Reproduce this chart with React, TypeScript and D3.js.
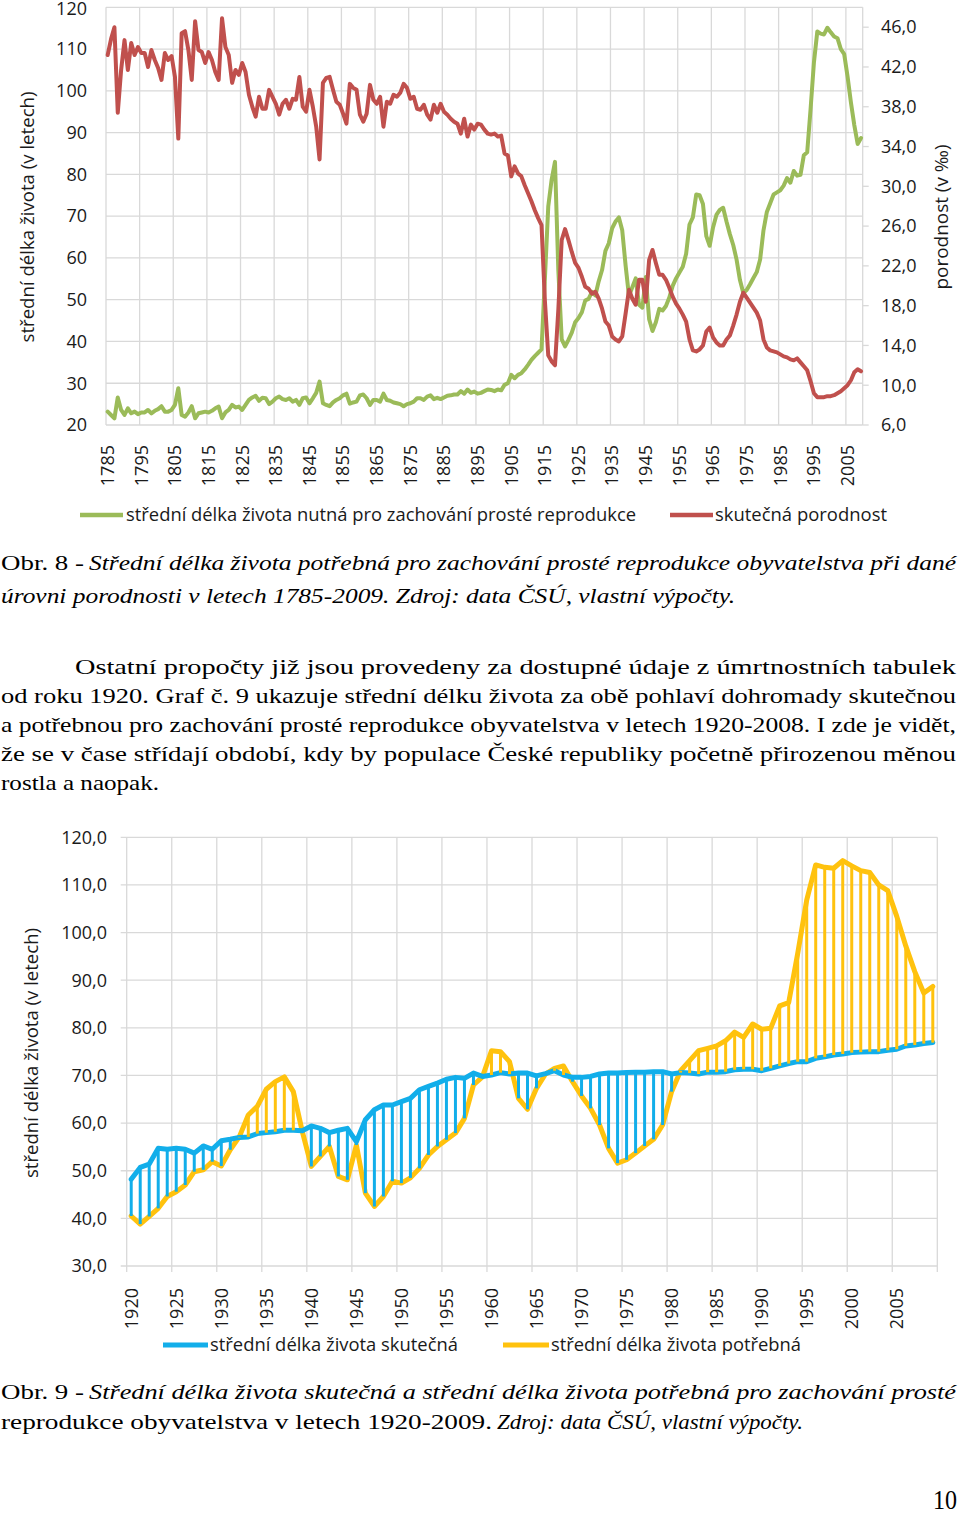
import React from 'react';
import * as d3 from 'd3';

// ---------- DATA ----------
// Chart 1 (Obr. 8): years 1785-2009
const years1: number[] = d3.range(1785, 2010);

// actual crude birth rate (‰), right axis, 1785-2009
const birthRate: number[] = [
  43.2, 44.8, 46.0, 37.4, 41.7, 44.7, 41.7, 44.4, 43.2, 44.0,
  43.4, 43.4, 42.0, 43.7, 42.7, 41.9, 40.7, 43.4, 42.7, 43.1,
  41.0, 34.8, 45.4, 45.6, 43.7, 40.7, 46.6, 43.7, 43.5, 42.4,
  43.5, 42.7, 41.5, 40.7, 46.9, 44.0, 43.2, 40.4, 41.7, 41.2,
  42.4, 41.5, 39.2, 38.0, 37.0, 39.0, 37.8, 37.8, 39.7, 39.0,
  38.3, 37.2, 38.3, 38.7, 37.8, 38.8, 38.7, 41.0, 38.0, 37.5,
  39.7, 38.0, 36.0, 32.7, 40.4, 40.9, 41.0, 39.7, 38.5, 38.2,
  37.3, 36.3, 40.3, 39.9, 39.7, 37.2, 36.5, 37.3, 40.2, 38.7,
  38.3, 39.0, 36.0, 38.5, 38.3, 39.2, 39.0, 39.4, 40.3, 39.9,
  38.8, 39.0, 37.8, 37.7, 38.2, 37.2, 36.7, 38.2, 37.4, 38.3,
  37.5, 37.2, 36.8, 36.5, 36.3, 35.3, 36.8, 35.0, 36.2, 35.7,
  36.3, 36.2, 35.7, 35.3, 35.2, 35.3, 35.0, 35.1, 33.3, 33.1,
  31.0, 32.0, 31.3, 31.0, 30.1, 29.3, 28.5, 27.6, 26.8, 26.1,
  18.5, 13.0, 12.4, 12.0, 17.6, 24.6, 25.7, 24.6, 23.4, 22.3,
  21.8, 20.9, 19.9, 19.7, 19.2, 19.4, 18.7, 17.7, 16.4, 16.0,
  14.9, 14.6, 14.4, 14.9, 17.2, 19.6, 18.7, 18.1, 20.6, 20.6,
  18.4, 22.6, 23.6, 22.3, 21.1, 21.1, 20.6, 19.8, 18.9, 18.2,
  17.7, 17.1, 16.4, 14.6, 13.5, 13.4, 13.6, 14.0, 15.4, 15.8,
  14.8, 14.3, 14.0, 14.0, 14.6, 15.0, 16.0, 17.1, 18.4, 19.3,
  18.8, 18.3, 17.8, 17.3, 16.5, 14.6, 13.8, 13.5, 13.4, 13.3,
  13.1, 12.9, 12.8, 12.6, 12.5, 12.7, 12.3, 11.9, 11.5, 10.4,
  9.2, 8.8, 8.8, 8.8, 8.9, 8.9, 9.0, 9.2, 9.4, 9.7,
  10.0, 10.5, 11.3, 11.6, 11.4,
];

// life expectancy needed for simple reproduction, 1785-1919 (left axis)
const neededEarly: number[] = [
  23.2, 22.4, 21.6, 26.6, 23.6, 22.4, 24.0, 22.8, 23.2, 22.6,
  23.0, 23.0, 23.6, 22.8, 23.4, 23.8, 24.5, 23.2, 23.2, 23.6,
  24.8, 28.8, 22.4, 22.0, 23.0, 24.5, 21.6, 22.8, 23.0, 23.2,
  23.0, 23.4, 24.0, 24.4, 21.6, 23.0, 23.6, 24.8, 24.2, 24.4,
  23.6, 24.8, 26.0, 26.6, 27.0, 25.8, 26.5, 26.4, 25.0, 25.6,
  26.4, 26.8, 26.2, 26.0, 26.4, 25.6, 26.0, 24.8, 26.4, 26.6,
  25.2, 26.4, 27.7, 30.4, 25.2, 24.8, 24.5, 25.4, 26.0, 26.4,
  27.1, 27.5, 25.1, 25.4, 25.6, 27.1, 27.3, 26.4, 24.8, 26.0,
  26.0, 25.6, 27.5, 26.0, 25.8, 25.4, 25.2, 25.0, 24.5, 25.0,
  25.2, 25.6, 26.4, 26.4, 26.0, 26.8, 27.1, 26.2, 26.5, 26.2,
  26.6, 27.0, 27.1, 27.3, 27.3, 28.1, 27.5, 28.5, 27.7, 28.0,
  27.5, 27.7, 28.1, 28.5, 28.4, 28.1, 28.5, 28.3, 29.6, 30.0,
  32.0, 31.2, 32.0, 32.4, 33.3, 34.4, 35.6, 36.5, 37.3, 38.1,
  55.0, 72.3, 78.7, 83.0, 57.0,
];

// Chart 2 (Obr. 9): years 1920-2009
const years2: number[] = d3.range(1920, 2010);

// actual life expectancy (both sexes)
const lifeActual: number[] = [
  48.2, 50.7, 51.4, 54.7, 54.5, 54.7, 54.5, 53.7, 55.2, 54.5,
  56.3, 56.6, 57.0, 57.1, 57.8, 58.0, 58.2, 58.5, 58.5, 58.4,
  59.4, 58.9, 58.0, 58.5, 58.9, 56.1, 60.7, 62.8, 63.8, 63.8,
  64.5, 65.2, 67.0, 67.7, 68.4, 69.2, 69.6, 69.4, 70.5, 69.8,
  70.1, 70.6, 70.3, 70.5, 70.5, 69.9, 70.4, 71.0, 70.1, 69.6,
  69.6, 69.8, 70.3, 70.5, 70.5, 70.6, 70.7, 70.7, 70.8, 70.8,
  70.3, 70.6, 70.5, 70.3, 70.7, 70.7, 70.8, 71.2, 71.3, 71.3,
  71.0, 71.5, 72.0, 72.5, 72.9, 72.9, 73.6, 73.9, 74.3, 74.5,
  74.8, 74.9, 75.0, 75.0, 75.3, 75.5, 76.2, 76.4, 76.7, 76.9,
];

// life expectancy needed for simple reproduction, 1920-2009
const lifeNeeded: number[] = [
  40.5, 38.8, 40.4, 42.1, 44.6, 45.6, 47.0, 49.8, 50.2, 51.9,
  51.0, 54.4, 57.1, 61.7, 63.5, 67.1, 68.7, 69.7, 66.6, 58.2,
  50.9, 53.0, 55.1, 48.8, 48.1, 55.4, 45.3, 42.5, 44.6, 47.8,
  47.4, 48.5, 50.5, 53.3, 55.1, 56.5, 57.9, 61.0, 68.0, 69.7,
  75.2, 75.0, 72.9, 65.2, 62.9, 67.3, 70.3, 71.5, 72.0, 68.7,
  65.7, 63.1, 59.6, 54.7, 51.6, 52.3, 53.7, 55.2, 56.6, 59.6,
  66.6, 71.0, 73.1, 75.2, 75.7, 76.2, 77.3, 79.1, 78.0, 80.8,
  79.7, 79.9, 84.6, 85.3, 95.6, 106.8, 114.2, 113.7, 113.5, 115.1,
  114.0, 113.0, 112.6, 110.0, 108.8, 103.4, 97.2, 91.8, 87.3, 88.7,
];

const needed1: number[] = neededEarly.concat(lifeNeeded);

const leftTicks1: number[] = [20, 30, 40, 50, 60, 70, 80, 90, 100, 110, 120];
const rightTicks1: number[] = [6, 10, 14, 18, 22, 26, 30, 34, 38, 42, 46];
const xLabels1: number[] = [1785, 1795, 1805, 1815, 1825, 1835, 1845, 1855, 1865, 1875, 1885, 1895, 1905, 1915, 1925, 1935, 1945, 1955, 1965, 1975, 1985, 1995, 2005];
const yTicks2: number[] = [30, 40, 50, 60, 70, 80, 90, 100, 110, 120];
const xLabels2: number[] = [1920, 1925, 1930, 1935, 1940, 1945, 1950, 1955, 1960, 1965, 1970, 1975, 1980, 1985, 1990, 1995, 2000, 2005];

const GREEN = '#9BBB59';
const RED = '#C0504D';
const BLUE = '#12AEEA';
const YELLOW = '#FFC20E';
const GRID = '#D9D9D9';
const SANS = '"Open Sans", "DejaVu Sans", sans-serif';
const SERIF = '"Liberation Serif", serif';
const comma1 = (v: number) => d3.format('.1f')(v).replace('.', ',');

export default function App() {
  // ---- chart 1 scales ----
  const x1 = d3.scaleBand<number>().domain(years1).range([106, 862.7]).padding(0);
  const yL = d3.scaleLinear().domain([20, 120]).range([425, 7.3]);
  const yR = d3.scaleLinear().domain([6, 48]).range([425, 7.3]);
  const c1 = (yr: number) => (x1(yr) as number) + x1.bandwidth() / 2;
  const greenPath = d3.line<number>().x((_, i) => c1(years1[i])).y((d) => yL(d))(needed1) || '';
  const redPath = d3.line<number>().x((_, i) => c1(years1[i])).y((d) => yR(d))(birthRate) || '';

  // ---- chart 2 scales ----
  const x2 = d3.scaleBand<number>().domain(years2).range([126.7, 937.3]).padding(0);
  const y2 = d3.scaleLinear().domain([30, 120]).range([1266, 837.3]);
  const c2 = (yr: number) => (x2(yr) as number) + x2.bandwidth() / 2;
  const bluePath = d3.line<number>().x((_, i) => c2(years2[i])).y((d) => y2(d))(lifeActual) || '';
  const yellowPath = d3.line<number>().x((_, i) => c2(years2[i])).y((d) => y2(d))(lifeNeeded) || '';

  const x1Right = x1.range()[1];
  const x2Right = x2.range()[1];

  return (
    <svg
      width={960}
      height={1515}
      viewBox="0 0 960 1515"
      style={{ position: 'absolute', left: 0, top: 0, background: '#fff' }}
    >
      <rect x={0} y={0} width={960} height={1515} fill="#fff" />

      {/* ================= CHART 1 ================= */}
      <g>
        {leftTicks1.map((t) => (
          <line key={'h1' + t} x1={106} x2={x1Right} y1={yL(t)} y2={yL(t)} stroke={GRID} strokeWidth={1.3} />
        ))}
        {xLabels1.map((yr) => (
          <line key={'v1' + yr} x1={x1(yr)} x2={x1(yr)} y1={yL(120)} y2={yL(20)} stroke={GRID} strokeWidth={1.3} />
        ))}
        <line x1={x1Right} x2={x1Right} y1={yL(120)} y2={yL(20)} stroke={GRID} strokeWidth={1.3} />
        {rightTicks1.map((t) => (
          <line key={'rt' + t} x1={x1Right} x2={x1Right + 6} y1={yR(t)} y2={yR(t)} stroke={GRID} strokeWidth={1.3} />
        ))}

        <path d={greenPath} fill="none" stroke={GREEN} strokeWidth={4} strokeLinejoin="round" strokeLinecap="round" />
        <path d={redPath} fill="none" stroke={RED} strokeWidth={4} strokeLinejoin="round" strokeLinecap="round" />

        {leftTicks1.map((t) => (
          <text key={'lt' + t} x={87} y={Math.max(yL(t), 9)} dy="0.35em" textAnchor="end" fontFamily={SANS} fontSize={18} fill="#1a1a1a">
            {t}
          </text>
        ))}
        {rightTicks1.map((t) => (
          <text key={'rl' + t} x={881} y={yR(t)} dy="0.35em" textAnchor="start" fontFamily={SANS} fontSize={18} fill="#1a1a1a">
            {comma1(t)}
          </text>
        ))}
        {xLabels1.map((yr) => (
          <text
            key={'xl1' + yr}
            transform={`translate(${c1(yr)},445) rotate(-90)`}
            dy="0.35em"
            textAnchor="end"
            fontFamily={SANS}
            fontSize={18}
            fill="#1a1a1a"
          >
            {yr}
          </text>
        ))}
        <text
          transform="translate(28,217) rotate(-90)"
          textAnchor="middle"
          dy="0.35em"
          fontFamily={SANS}
          fontSize={18}
          fill="#1a1a1a"
          textLength={251}
          lengthAdjust="spacingAndGlyphs"
        >
          střední délka života (v letech)
        </text>
        <text
          transform="translate(942,217) rotate(-90)"
          textAnchor="middle"
          dy="0.35em"
          fontFamily={SANS}
          fontSize={18}
          fill="#1a1a1a"
          textLength={145}
          lengthAdjust="spacingAndGlyphs"
        >
          porodnost (v ‰)
        </text>

        {/* legend */}
        <line x1={80} x2={123} y1={515} y2={515} stroke={GREEN} strokeWidth={4.5} />
        <text x={126} y={515} dy="0.35em" fontFamily={SANS} fontSize={18} fill="#1a1a1a" textLength={510} lengthAdjust="spacingAndGlyphs">
          střední délka života nutná pro zachování prosté reprodukce
        </text>
        <line x1={670} x2={713} y1={515} y2={515} stroke={RED} strokeWidth={4.5} />
        <text x={715} y={515} dy="0.35em" fontFamily={SANS} fontSize={18} fill="#1a1a1a" textLength={172} lengthAdjust="spacingAndGlyphs">
          skutečná porodnost
        </text>
      </g>

      {/* ================= TEXT BLOCK ================= */}
      <g fontFamily={SERIF} fontSize={22} fill="#000">
        <text x={1} y={570} textLength={83} lengthAdjust="spacingAndGlyphs">Obr. 8 -</text>
        <text x={89} y={570} fontStyle="italic" textLength={867} lengthAdjust="spacingAndGlyphs">
          Střední délka života potřebná pro zachování prosté reprodukce obyvatelstva při dané
        </text>
        <text x={1} y={603} fontStyle="italic" textLength={734} lengthAdjust="spacingAndGlyphs">
          úrovni porodnosti v letech 1785-2009. Zdroj: data ČSÚ, vlastní výpočty.
        </text>

        <text x={75} y={674} textLength={881} lengthAdjust="spacingAndGlyphs">
          Ostatní propočty již jsou provedeny za dostupné údaje z úmrtnostních tabulek
        </text>
        <text x={1} y={703} textLength={955} lengthAdjust="spacingAndGlyphs">
          od roku 1920. Graf č. 9 ukazuje střední délku života za obě pohlaví dohromady skutečnou
        </text>
        <text x={1} y={732} textLength={955} lengthAdjust="spacingAndGlyphs">
          a potřebnou pro zachování prosté reprodukce obyvatelstva v letech 1920-2008. I zde je vidět,
        </text>
        <text x={1} y={761} textLength={955} lengthAdjust="spacingAndGlyphs">
          že se v čase střídají období, kdy by populace České republiky početně přirozenou měnou
        </text>
        <text x={1} y={790} textLength={158} lengthAdjust="spacingAndGlyphs">
          rostla a naopak.
        </text>
      </g>

      {/* ================= CHART 2 ================= */}
      <g>
        {yTicks2.map((t) => (
          <line key={'h2' + t} x1={120.7} x2={x2Right} y1={y2(t)} y2={y2(t)} stroke={GRID} strokeWidth={1.3} />
        ))}
        {xLabels2.map((yr) => (
          <line key={'v2' + yr} x1={x2(yr)} x2={x2(yr)} y1={y2(120)} y2={1272} stroke={GRID} strokeWidth={1.3} />
        ))}
        <line x1={x2Right} x2={x2Right} y1={y2(120)} y2={1272} stroke={GRID} strokeWidth={1.3} />

        <path d={yellowPath} fill="none" stroke={YELLOW} strokeWidth={5} strokeLinejoin="round" strokeLinecap="round" />
        <path d={bluePath} fill="none" stroke={BLUE} strokeWidth={5} strokeLinejoin="round" strokeLinecap="round" />
        {years2.map((yr, i) => (
          <line
            key={'d' + yr}
            x1={c2(yr)}
            x2={c2(yr)}
            y1={y2(lifeActual[i])}
            y2={y2(lifeNeeded[i])}
            stroke={lifeActual[i] >= lifeNeeded[i] ? BLUE : YELLOW}
            strokeWidth={3}
          />
        ))}

        {yTicks2.map((t) => (
          <text key={'yl2' + t} x={107} y={y2(t)} dy="0.35em" textAnchor="end" fontFamily={SANS} fontSize={18} fill="#1a1a1a">
            {comma1(t)}
          </text>
        ))}
        {xLabels2.map((yr) => (
          <text
            key={'xl2' + yr}
            transform={`translate(${c2(yr)},1288) rotate(-90)`}
            dy="0.35em"
            textAnchor="end"
            fontFamily={SANS}
            fontSize={18}
            fill="#1a1a1a"
          >
            {yr}
          </text>
        ))}
        <text
          transform="translate(32,1053) rotate(-90)"
          textAnchor="middle"
          dy="0.35em"
          fontFamily={SANS}
          fontSize={18}
          fill="#1a1a1a"
          textLength={250}
          lengthAdjust="spacingAndGlyphs"
        >
          střední délka života (v letech)
        </text>

        {/* legend */}
        <line x1={163} x2={208} y1={1345} y2={1345} stroke={BLUE} strokeWidth={5} />
        <text x={210} y={1345} dy="0.35em" fontFamily={SANS} fontSize={18} fill="#1a1a1a" textLength={248} lengthAdjust="spacingAndGlyphs">
          střední délka života skutečná
        </text>
        <line x1={503} x2={549} y1={1345} y2={1345} stroke={YELLOW} strokeWidth={5} />
        <text x={551} y={1345} dy="0.35em" fontFamily={SANS} fontSize={18} fill="#1a1a1a" textLength={250} lengthAdjust="spacingAndGlyphs">
          střední délka života potřebná
        </text>
      </g>

      {/* ================= CAPTION 2 ================= */}
      <g fontFamily={SERIF} fontSize={22} fill="#000">
        <text x={1} y={1399} textLength={83} lengthAdjust="spacingAndGlyphs">Obr. 9 -</text>
        <text x={89} y={1399} fontStyle="italic" textLength={867} lengthAdjust="spacingAndGlyphs">
          Střední délka života skutečná a střední délka života potřebná pro zachování prosté
        </text>
        <text x={1} y={1429} textLength={491} lengthAdjust="spacingAndGlyphs">
          reprodukce obyvatelstva v letech 1920-2009.
        </text>
        <text x={497} y={1429} fontStyle="italic" textLength={306} lengthAdjust="spacingAndGlyphs">
          Zdroj: data ČSÚ, vlastní výpočty.
        </text>
        <text x={933} y={1509} fontSize={27} textLength={24} lengthAdjust="spacingAndGlyphs">10</text>
      </g>
    </svg>
  );
}
